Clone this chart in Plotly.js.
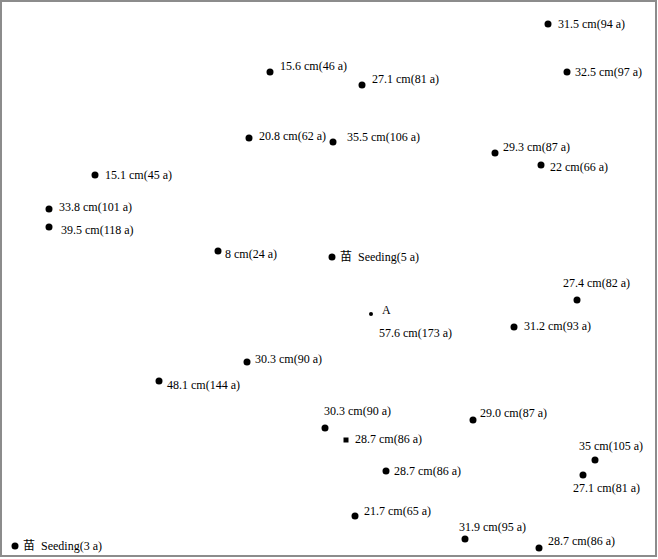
<!DOCTYPE html>
<html>
<head>
<meta charset="utf-8">
<script src="https://cdn.plot.ly/plotly-3.0.1.min.js"></script>
<style>html,body{margin:0;padding:0;background:#fff;}#chart{width:658px;height:559px;}</style>
</head>
<body>
<div id="chart"></div>
<script>
// Tree positions in the plot (map units) and labels (DBH, age)
const treeX = [548, 567, 270, 362, 249, 333, 495, 541, 95, 49, 49, 218, 332, 577, 371, 514, 247, 159, 325, 473, 346, 595, 386, 583, 355, 465, 539, 15];
const treeY = [24, 72, 72, 85, 138, 142, 153, 165, 175, 209, 227, 251, 257, 300, 314, 327, 362, 381, 428, 420, 440, 460, 471, 475, 516, 539, 548, 546];
const treeLabel = [
  "31.5 cm(94 a)", "32.5 cm(97 a)", "15.6 cm(46 a)", "27.1 cm(81 a)", "20.8 cm(62 a)",
  "35.5 cm(106 a)", "29.3 cm(87 a)", "22 cm(66 a)", "15.1 cm(45 a)", "33.8 cm(101 a)",
  "39.5 cm(118 a)", "8 cm(24 a)", "苗  Seeding(5 a)", "27.4 cm(82 a)", "57.6 cm(173 a)",
  "31.2 cm(93 a)", "30.3 cm(90 a)", "48.1 cm(144 a)", "30.3 cm(90 a)", "29.0 cm(87 a)",
  "28.7 cm(86 a)", "35 cm(105 a)", "28.7 cm(86 a)", "27.1 cm(81 a)", "21.7 cm(65 a)",
  "31.9 cm(95 a)", "28.7 cm(86 a)", "苗  Seeding(3 a)"
];
const treeName = ["", "", "", "", "", "", "", "", "", "", "", "", "", "", "A", "", "", "", "", "", "", "", "", "", "", "", "", ""];

// Label placement (pixels, relative to the dot: left edge / vertical centre)
const labelDX = [8, 6, 8, 8, 8, 12, 6, 7, 8, 8, 10, 5, 6, -16, 6, 8, 6, 6, -3, 5, 7, -18, 6, -12, 7, -8, 7, 6];
const labelDY = [0, 0, -6, -6, -2, -5, -6, 2, 0, -2, 3, 3, 0, -17, 19, -1, -3, 4, -17, -7, -1, -14, 0, 13, -5, -12, -7, 0];
// Marker styles
const markerSize = treeName.map((n, i) => n === "A" ? 4 : (i === 20 ? 5 : 7));
const markerSymbol = treeName.map((n, i) => i === 20 ? "square" : "circle");

const FONT = "Liberation Serif, Noto Sans CJK SC, serif";

const annotations = treeLabel.map((t, i) => ({
  x: treeX[i], y: treeY[i], xref: "x", yref: "y",
  text: t, showarrow: false, xanchor: "left", yanchor: "middle",
  xshift: labelDX[i], yshift: -labelDY[i],
  font: {family: FONT, size: 12, color: "#000"}
}));
treeName.forEach((n, i) => {
  if (n) annotations.push({
    x: treeX[i], y: treeY[i], xref: "x", yref: "y",
    text: n, showarrow: false, xanchor: "left", yanchor: "middle",
    xshift: 9, yshift: 4,
    font: {family: FONT, size: 12, color: "#000"}
  });
});

const trace = {
  type: "scatter", mode: "markers",
  x: treeX, y: treeY,
  marker: {color: "#000", opacity: 1, size: markerSize, symbol: markerSymbol, line: {width: 0}},
  hoverinfo: "skip"
};

const layout = {
  width: 658, height: 559,
  margin: {l: 2, r: 3, t: 2, b: 4, pad: 0},
  paper_bgcolor: "#fff", plot_bgcolor: "#fff",
  font: {family: FONT},
  showlegend: false,
  xaxis: {range: [2, 655], showgrid: false, zeroline: false, showticklabels: false, ticks: "",
          showline: true, mirror: true, linecolor: "#8c8c8c", linewidth: 2},
  yaxis: {range: [555, 2], showgrid: false, zeroline: false, showticklabels: false, ticks: "",
          showline: true, mirror: true, linecolor: "#8c8c8c", linewidth: 2},
  annotations: annotations
};

Plotly.newPlot("chart", [trace], layout, {displayModeBar: false, staticPlot: true});
</script>
</body>
</html>
